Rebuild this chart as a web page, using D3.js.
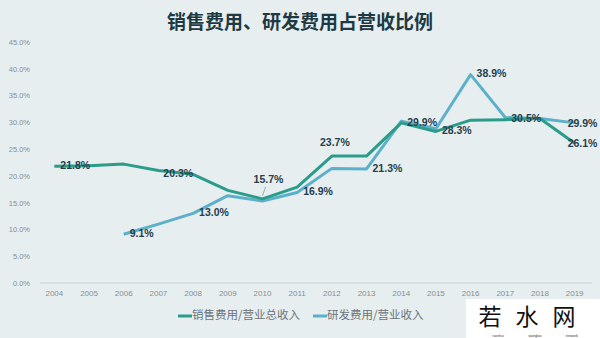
<!DOCTYPE html>
<html>
<head>
<meta charset="utf-8">
<script src="https://cdn.jsdelivr.net/npm/d3@7"></script>
<style>
  html, body { margin: 0; padding: 0; background: #e7eef0; }
  svg { display: block; font-family: "Liberation Sans", "Noto Sans CJK SC", sans-serif; }
</style>
</head>
<body>
<div id="chart"></div>
<script>
'use strict';

// data
const years = ["2004", "2005", "2006", "2007", "2008", "2009", "2010", "2011",
    "2012", "2013", "2014", "2015", "2016", "2017", "2018", "2019"];
const salesRatio = [21.8, 21.9, 22.2, 21.0, 20.3, 17.3, 15.7, 17.9,
    23.7, 23.7, 29.9, 28.3, 30.4, 30.5, 30.7, 26.1];
const rdRatio = [null, null, 9.1, 11.0, 13.0, 16.3, 15.3, 16.9,
    21.4, 21.3, 30.2, 28.8, 38.9, 30.9, 30.7, 29.9];
const yTicks = [0, 5, 10, 15, 20, 25, 30, 35, 40, 45];
const seriesNames = ["销售费用/营业总收入", "研发费用/营业收入"];

// which points carry a data label, and where it sits
const salesLabels = [
    { year: "2004", pos: "right" },
    { year: "2008", pos: "left" },
    { year: "2010", pos: "leader" },
    { year: "2012", pos: "above" },
    { year: "2014", pos: "right" },
    { year: "2015", pos: "right" },
    { year: "2017", pos: "right" },
    { year: "2019", pos: "edge" }
];
const rdLabels = [
    { year: "2006", pos: "right" },
    { year: "2008", pos: "right" },
    { year: "2011", pos: "right" },
    { year: "2013", pos: "right" },
    { year: "2016", pos: "right" },
    { year: "2019", pos: "edge" }
];

const width = 600, height = 338;
const colors = ["#2b9c89", "#5db0c9"];

const svg = d3.select("#chart").append("svg")
    .attr("width", width)
    .attr("height", height);

svg.append("rect")
    .attr("width", width)
    .attr("height", height)
    .attr("fill", "#e7eef0");

svg.append("text")
    .attr("x", 300)
    .attr("y", 29)
    .attr("text-anchor", "middle")
    .attr("font-family", "Noto Sans CJK SC")
    .attr("font-size", 19)
    .attr("font-weight", "bold")
    .attr("fill", "#1d3a44")
    .text("销售费用、研发费用占营收比例");

const x = d3.scaleBand().domain(years).range([37, 592]);
const y = d3.scaleLinear().domain([0, 45]).range([283, 42]);
const cx = d => x(d) + x.bandwidth() / 2;

// y axis labels, no axis line
const yAxis = svg.append("g")
    .attr("transform", "translate(33,0)")
    .call(d3.axisLeft(y).tickValues(yTicks).tickSize(0).tickFormat(d => d.toFixed(1) + "%"));
yAxis.select(".domain").remove();
yAxis.selectAll("text")
    .attr("font-size", 7.5)
    .attr("fill", "#848e93");

// baseline
svg.append("line")
    .attr("x1", 40).attr("x2", 592)
    .attr("y1", y(0)).attr("y2", y(0))
    .attr("stroke", "#d2dadc")
    .attr("stroke-width", 1.5);

const xAxis = svg.append("g")
    .attr("transform", `translate(0,${y(0) + 4})`)
    .call(d3.axisBottom(x).tickSize(0));
xAxis.select(".domain").remove();
xAxis.selectAll("text")
    .attr("font-size", 8)
    .attr("fill", "#848e93");

const line = d3.line()
    .defined(d => d.v != null)
    .x(d => cx(d.year))
    .y(d => y(d.v));

const series = [salesRatio, rdRatio].map((vals, i) =>
    years.map((yr, j) => ({ year: yr, v: vals[j] })));

// draw rd first so the sales line sits on top
[1, 0].forEach(i => {
    svg.append("path")
        .datum(series[i])
        .attr("fill", "none")
        .attr("stroke", colors[i])
        .attr("stroke-width", 3)
        .attr("stroke-linejoin", "round")
        .attr("d", line);
});

let labelGroup = svg.append("g")
    .attr("font-size", 10.5)
    .attr("font-weight", "bold")
    .attr("fill", "#23404e");

function drawLabels(labels, vals) {
    labels.forEach(l => {
        let v = vals[years.indexOf(l.year)];
        let px = cx(l.year), py = y(v);
        let t = labelGroup.append("text")
            .attr("dominant-baseline", "middle")
            .text(v.toFixed(1) + "%");
        if (l.pos === "right") {
            t.attr("x", px + 6).attr("y", py);
        } else if (l.pos === "left") {
            t.attr("x", px).attr("y", py).attr("text-anchor", "end");
        } else if (l.pos === "above") {
            t.attr("x", px + 3).attr("y", py - 13).attr("text-anchor", "middle");
        } else if (l.pos === "edge") {
            t.attr("x", px - 7).attr("y", py + 1);
        } else if (l.pos === "leader") {
            t.attr("x", px + 6).attr("y", py - 19).attr("text-anchor", "middle");
            labelGroup.append("line")
                .attr("x1", px + 3).attr("y1", py - 12)
                .attr("x2", px).attr("y2", py - 3)
                .attr("stroke", "#8a9aa0")
                .attr("stroke-width", 0.8);
        }
    });
}
drawLabels(salesLabels, salesRatio);
drawLabels(rdLabels, rdRatio);

// legend
const legend = svg.append("g").attr("transform", "translate(0,316)");
const legendX = [178, 313];
seriesNames.forEach((name, i) => {
    legend.append("line")
        .attr("x1", legendX[i]).attr("x2", legendX[i] + 14)
        .attr("y1", 0).attr("y2", 0)
        .attr("stroke", colors[i])
        .attr("stroke-width", 3);
    legend.append("text")
        .attr("x", legendX[i] + 14)
        .attr("y", 0)
        .attr("dominant-baseline", "middle")
        .attr("font-family", "Noto Sans CJK SC")
        .attr("font-size", 11.5)
        .attr("fill", "#6b7478")
        .text(name);
});

// site stamp in the corner, kept below the year labels
const stamp = svg.append("g");
stamp.append("rect")
    .attr("x", 466).attr("y", 299)
    .attr("width", 134).attr("height", 39)
    .attr("fill", "#ffffff");
stamp.append("text")
    .attr("x", 534).attr("y", 325)
    .attr("text-anchor", "middle")
    .attr("font-family", "Noto Sans CJK SC")
    .attr("font-size", 23)
    .attr("letter-spacing", 14)
    .attr("fill", "#111")
    .text("若水网");
["ruoshui", "wangluo", "network"].forEach((s, i) => {
    stamp.append("text")
        .attr("x", 498 + i * 37).attr("y", 336.5)
        .attr("text-anchor", "middle")
        .attr("font-size", 3.5)
        .attr("fill", "#333")
        .text(s);
});
</script>
</body>
</html>
